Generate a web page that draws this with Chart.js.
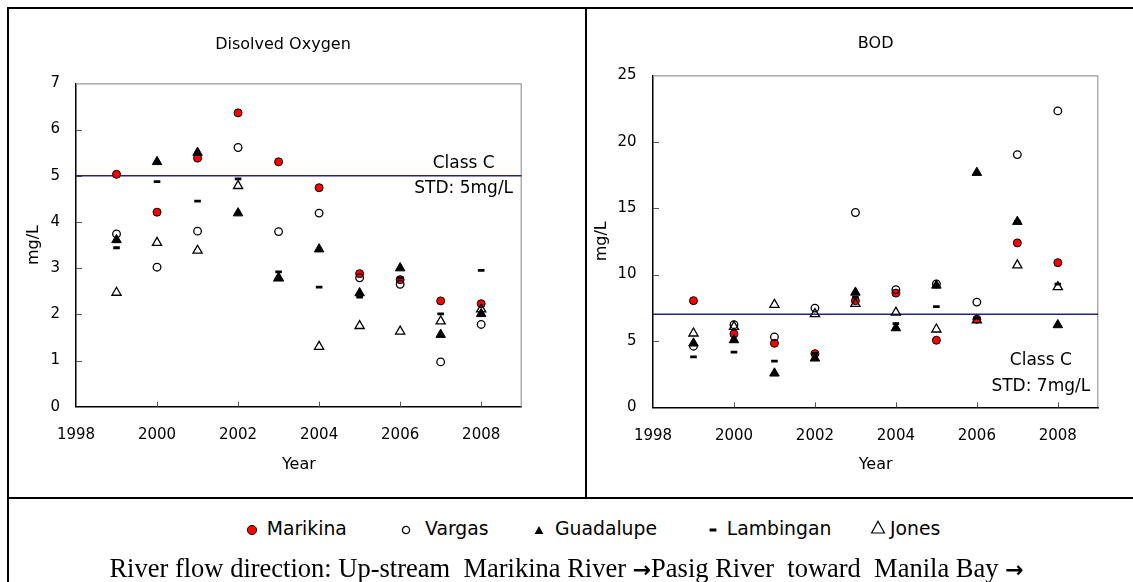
<!DOCTYPE html>
<html lang="en">
<head>
<meta charset="utf-8">
<title>Disolved Oxygen and BOD, Marikina–Pasig River</title>
<script src="https://cdn.jsdelivr.net/npm/chart.js@4.4.1/dist/chart.umd.min.js"></script>
<style>
  html, body { margin: 0; padding: 0; background: #fff; }
  body { position: relative; width: 1133px; height: 582px; overflow: hidden;
         font-family: "DejaVu Sans", sans-serif; color: #000; }
  canvas { position: absolute; top: 0; }
  #chartDO { left: 0; }
  #chartBOD { left: 587px; }
  .rule { position: absolute; background: #000; }
  .legend-text { position: absolute; top: 517.5px; font-size: 18.8px; line-height: normal; white-space: nowrap; }
  .legend-mark { position: absolute; display: block; }
  #caption { position: absolute; left: 0; top: 553.4px; width: 1133px; text-align: center;
             font-family: "Liberation Serif", "Times New Roman", serif; font-size: 26.5px;
             line-height: normal; white-space: nowrap; }
  #caption .arr { font-family: "DejaVu Sans", sans-serif; font-weight: bold; font-size: 22px; }
</style>
</head>
<body>
<canvas id="chartDO" width="585" height="497"></canvas>
<canvas id="chartBOD" width="546" height="497"></canvas>

<!-- panel frame -->
<div class="rule" style="left:7px;top:7px;width:1126px;height:2px"></div>
<div class="rule" style="left:7px;top:7px;width:2px;height:575px"></div>
<div class="rule" style="left:585px;top:7px;width:2px;height:491px"></div>
<div class="rule" style="left:7px;top:497px;width:1126px;height:2px"></div>

<div id="legend"></div>
<div id="caption">River flow direction: Up-stream&nbsp; Marikina River <span class="arr">→</span>Pasig River&nbsp; toward&nbsp; Manila Bay <span class="arr">→</span></div>

<script>
// ---- data -------------------------------------------------------------
const years = [1999, 2000, 2001, 2002, 2003, 2004, 2005, 2006, 2007, 2008];
const stations = ['Marikina', 'Vargas', 'Guadalupe', 'Lambingan', 'Jones'];

// Dissolved oxygen, mg/L
const doMarikina  = [5.03, 4.21, 5.38, 6.36, 5.30, 4.74, 2.88, 2.75, 2.29, 2.23];
const doVargas    = [3.74, 3.02, 3.80, 5.61, 3.79, 4.19, 2.79, 2.65, 0.97, 1.78];
const doGuadalupe = [3.61, 5.30, 5.50, 4.19, 2.79, 3.41, 2.46, 3.00, 1.56, 2.01];
const doLambingan = [3.44, 4.87, 4.45, 4.93, 2.92, 2.59, 2.37, 2.79, 2.01, 2.95];
const doJones     = [2.47, 3.55, 3.38, 4.78, 2.78, 1.30, 1.75, 1.63, 1.85, 2.11];

// Biochemical oxygen demand, mg/L
const bodMarikina  = [8.03, 5.52, 4.82, 4.04, 8.03, 8.60, 5.05, 6.63, 12.38, 10.89];
const bodVargas    = [4.60, 6.22, 5.30, 7.47, 14.67, 8.86, 9.29, 7.92, 19.03, 22.32];
const bodGuadalupe = [4.82, 5.07, 2.56, 3.69, 8.65, 5.97, 9.18, 17.67, 13.98, 6.20];
const bodLambingan = [3.79, 4.15, 3.47, 4.05, 8.30, 6.30, 7.58, 6.70, 14.00, 9.28];
const bodJones     = [5.57, 6.07, 7.73, 7.03, 7.80, 7.14, 5.87, 6.55, 10.70, 9.06];

// Class C water quality standards, mg/L
const stdDO = 5;
const stdBOD = 7;

const yearMin = 1998, yearMax = 2009, yearStep = 2;

// ---- marker styles ----------------------------------------------------
const markerStyles = [
  { pointStyle: 'circle',   pointRadius: 4,   backgroundColor: '#ff0000',       borderColor: '#000', borderWidth: 1 },
  { pointStyle: 'circle',   pointRadius: 3.8, backgroundColor: 'rgba(0,0,0,0)', borderColor: '#000', borderWidth: 1.3 },
  { pointStyle: 'triangle', pointRadius: 5.5, backgroundColor: '#000',          borderColor: '#000', borderWidth: 1 },
  { pointStyle: 'line',     pointRadius: 3.3, backgroundColor: '#000',          borderColor: '#000', borderWidth: 2.8 },
  { pointStyle: 'triangle', pointRadius: 5.3, backgroundColor: 'rgba(0,0,0,0)', borderColor: '#000', borderWidth: 1.3 }
];

Chart.defaults.font.family = '"DejaVu Sans", sans-serif';
Chart.defaults.color = '#000';

// gray top/right plot edges and short inward tick marks
const plotFrame = {
  id: 'plotFrame',
  beforeDatasetsDraw(chart) {
    const { ctx, chartArea: a, scales: { x, y } } = chart;
    ctx.save();
    ctx.strokeStyle = '#999';
    ctx.lineWidth = 1.2;
    ctx.beginPath();
    ctx.moveTo(a.left, a.top + 0.5);
    ctx.lineTo(a.right - 0.5, a.top + 0.5);
    ctx.lineTo(a.right - 0.5, a.bottom);
    ctx.stroke();

    ctx.strokeStyle = '#555';
    ctx.lineWidth = 1;
    ctx.beginPath();
    x.ticks.forEach(t => {
      const px = Math.round(x.getPixelForValue(t.value)) + 0.5;
      if (px > a.left + 2 && px < a.right - 2) { ctx.moveTo(px, a.bottom); ctx.lineTo(px, a.bottom - 5); }
    });
    y.ticks.forEach(t => {
      const py = Math.round(y.getPixelForValue(t.value)) + 0.5;
      if (py > a.top + 2 && py < a.bottom - 2) { ctx.moveTo(a.left, py); ctx.lineTo(a.left + 6, py); }
    });
    ctx.stroke();
    ctx.restore();
  }
};

// "Class C / STD" note next to the standard line
const stdNote = {
  id: 'stdNote',
  afterDatasetsDraw(chart, args, opts) {
    const { ctx, chartArea: a, scales: { y } } = chart;
    const cx = a.right - opts.offsetRight;
    const y1 = opts.anchor === 'line'
      ? y.getPixelForValue(opts.value) - opts.gap / 2
      : a.bottom - opts.fromBottom;
    ctx.save();
    ctx.font = '17px "DejaVu Sans", sans-serif';
    ctx.fillStyle = '#000';
    ctx.textAlign = 'center';
    ctx.textBaseline = 'middle';
    opts.lines.forEach((t, i) => ctx.fillText(t, cx, y1 + i * opts.gap));
    ctx.restore();
  }
};

function stationSets(seriesList) {
  return seriesList.map((values, i) => Object.assign({
    type: 'scatter',
    label: stations[i],
    data: years.map((yr, k) => ({ x: yr, y: values[k] })),
    order: 5 - i
  }, markerStyles[i]));
}

function standardLine(value) {
  return {
    type: 'line',
    label: 'Class C',
    data: [{ x: yearMin, y: value }, { x: yearMax, y: value }],
    borderColor: '#22228c',
    borderWidth: 1.5,
    pointRadius: 0,
    showLine: true,
    order: 6
  };
}

function makeChart(canvasId, cfg) {
  return new Chart(document.getElementById(canvasId), {
    type: 'scatter',
    data: { datasets: [standardLine(cfg.std)].concat(stationSets(cfg.series)) },
    plugins: [plotFrame, stdNote],
    options: {
      responsive: false,
      animation: false,
      events: [],
      layout: { padding: cfg.padding },
      plugins: {
        legend: { display: false },
        tooltip: { enabled: false },
        title: {
          display: true,
          text: cfg.title,
          color: '#000',
          fullSize: cfg.titleFullSize,
          font: { size: 16, weight: 'normal' },
          padding: cfg.titlePadding
        },
        stdNote: cfg.note
      },
      scales: {
        x: {
          type: 'linear',
          min: yearMin,
          max: yearMax,
          afterFit(s) { s.height = cfg.xHeight; s.paddingLeft = 0; s.paddingRight = 0; },
          ticks: { stepSize: yearStep, includeBounds: false, autoSkip: false, maxRotation: 0,
                   callback: v => String(v),
                   font: { size: 15 }, color: '#000', padding: 19.5 },
          grid: { display: false, drawTicks: false },
          border: { display: true, color: '#000', width: 1.5 },
          title: { display: true, text: 'Year', font: { size: 16 }, color: '#000', padding: { top: 0, bottom: 0 } }
        },
        y: {
          min: 0,
          max: cfg.yMax,
          afterFit(s) { s.width = cfg.yWidth; s.paddingTop = 0; s.paddingBottom = 0; },
          ticks: { stepSize: cfg.yStep, font: { size: 15 }, color: '#000', padding: cfg.yTickPad },
          grid: { display: false, drawTicks: false },
          border: { display: true, color: '#000', width: 1.5 },
          title: { display: true, text: 'mg/L', font: { size: 16 }, color: '#000',
                   padding: { top: cfg.yTitleShift, bottom: 0 } }
        }
      }
    }
  });
}

makeChart('chartDO', {
  title: 'Disolved Oxygen',
  titleFullSize: true,
  series: [doMarikina, doVargas, doGuadalupe, doLambingan, doJones],
  std: stdDO,
  yMax: 7, yStep: 1,
  padding: { left: 44.3, right: 63.3, top: 0, bottom: 22.4 },
  titlePadding: { top: 35.4, bottom: 28.7 },
  xHeight: 67.9, yWidth: 31.7, yTickPad: 16, yTitleShift: -20.4,
  note: { lines: ['Class C', 'STD: ' + stdDO + 'mg/L'], anchor: 'line', value: stdDO, gap: 25, offsetRight: 58, fromBottom: 0 }
});

makeChart('chartBOD', {
  title: 'BOD',
  titleFullSize: false,
  series: [bodMarikina, bodVargas, bodGuadalupe, bodLambingan, bodJones],
  std: stdBOD,
  yMax: 25, yStep: 5,
  padding: { left: 10, right: 34.7, top: 0, bottom: 22.4 },
  titlePadding: { top: 34.4, bottom: 21.7 },
  xHeight: 67.3, yWidth: 56, yTickPad: 16.5, yTitleShift: -4.6,
  note: { lines: ['Class C', 'STD: ' + stdBOD + 'mg/L'], anchor: 'bottom', value: stdBOD, gap: 26, offsetRight: 57.5, fromBottom: 46.6 }
});

// ---- shared legend ----------------------------------------------------
const legendMarkX = [251.7, 405.7, 539, 713, 878];
const legendTextX = [266.7, 425, 555, 726.7, 890];
const legendMidY = 527.3;
const legendSvgs = [
  '<svg width="12" height="12"><circle cx="6" cy="6" r="4.6" fill="#ff0000" stroke="#000" stroke-width="1"/></svg>',
  '<svg width="12" height="12"><circle cx="6" cy="6" r="3.6" fill="none" stroke="#000" stroke-width="1.3"/></svg>',
  '<svg width="12" height="12"><polygon points="6,2 1.6,10 10.4,10" fill="#000"/></svg>',
  '<svg width="12" height="12"><rect x="2.6" y="4.5" width="6.8" height="3" fill="#000"/></svg>',
  '<svg width="16" height="16"><polygon points="8,2.2 1.6,14 14.4,14" fill="none" stroke="#000" stroke-width="1.2"/></svg>'
];
const legend = document.getElementById('legend');
stations.forEach((name, i) => {
  const mark = document.createElement('span');
  mark.className = 'legend-mark';
  mark.innerHTML = legendSvgs[i];
  const size = i === 4 ? 16 : 12;
  mark.style.left = (legendMarkX[i] - size / 2) + 'px';
  mark.style.top = (legendMidY - size / 2) + 'px';
  mark.style.width = size + 'px';
  mark.style.height = size + 'px';
  legend.appendChild(mark);

  const text = document.createElement('span');
  text.className = 'legend-text';
  text.style.left = legendTextX[i] + 'px';
  text.textContent = name;
  legend.appendChild(text);
});
</script>
</body>
</html>
